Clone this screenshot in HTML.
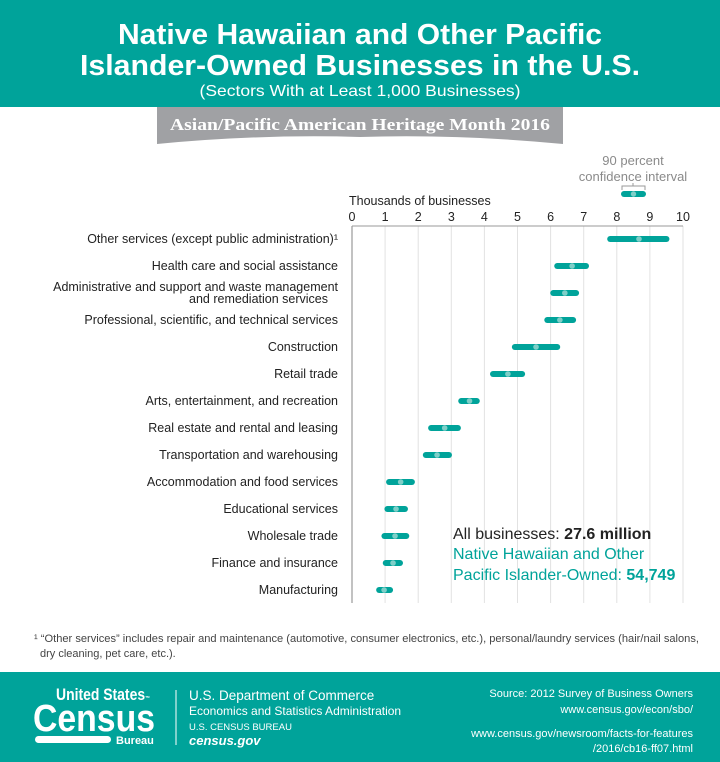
<!DOCTYPE html>
<html><head><meta charset="utf-8"><style>
body{margin:0;background:#fff}
svg{display:block;font-family:"Liberation Sans",sans-serif}
</style></head><body>
<svg id="chart" width="720" height="762" viewBox="0 0 720 762">
<rect x="0" y="0" width="720" height="107" fill="#00a39a"/>
<text x="360" y="44" text-anchor="middle" font-size="29" font-weight="bold" fill="#fff" textLength="484" lengthAdjust="spacingAndGlyphs">Native Hawaiian and Other Pacific</text>
<text x="360" y="75" text-anchor="middle" font-size="29" font-weight="bold" fill="#fff" textLength="560" lengthAdjust="spacingAndGlyphs">Islander-Owned Businesses in the U.S.</text>
<text x="360" y="96" text-anchor="middle" font-size="16" fill="#fff" textLength="321" lengthAdjust="spacingAndGlyphs">(Sectors With at Least 1,000 Businesses)</text>
<path d="M157 107 H563 V144 Q460 134 360 137 Q260 134 157 144 Z" fill="#a0a1a4"/>
<text x="360" y="130" text-anchor="middle" font-family="Liberation Serif,serif" font-size="17" font-weight="bold" fill="#fff" textLength="380" lengthAdjust="spacingAndGlyphs">Asian/Pacific American Heritage Month 2016</text>
<g id="legend">
<text x="633" y="165" text-anchor="middle" font-size="13" fill="#8a8a8a">90 percent</text>
<text x="633" y="181" text-anchor="middle" font-size="13" fill="#8a8a8a">confidence interval</text>
<path d="M622 190 V186 H645 V190 M633 186 V183" stroke="#999" fill="none"/>
<line x1="624" y1="194" x2="643" y2="194" stroke="#00a39a" stroke-width="6" stroke-linecap="round"/>
<circle cx="633.5" cy="194" r="2.7" fill="#7fcfc8"/>
</g>
<text x="349" y="205" font-size="12.5" fill="#222">Thousands of businesses</text>
<g id="axes"></g>
<g id="marks"></g>
<text x="453" y="539" font-size="16" fill="#222">All businesses: <tspan font-weight="bold">27.6 million</tspan></text>
<text x="453" y="559" font-size="16" fill="#00a39a">Native Hawaiian and Other</text>
<text x="453" y="580" font-size="16" fill="#00a39a">Pacific Islander-Owned: <tspan font-weight="bold">54,749</tspan></text>
<text x="34" y="642" font-size="11" fill="#444" textLength="665" lengthAdjust="spacingAndGlyphs">¹ “Other services” includes repair and maintenance (automotive, consumer electronics, etc.), personal/laundry services (hair/nail salons,</text>
<text x="40" y="657" font-size="11" fill="#444">dry cleaning, pet care, etc.).</text>
<rect x="0" y="672" width="720" height="90" fill="#00a39a"/>
<g>
<text x="56" y="700" font-size="17" font-weight="bold" fill="#fff" textLength="94" lengthAdjust="spacingAndGlyphs">United States<tspan font-size="6">™</tspan></text>
<text x="33" y="731" font-size="38" font-weight="bold" fill="#fff" textLength="122" lengthAdjust="spacingAndGlyphs">Census</text>
<rect x="35" y="736" width="76" height="7" rx="3.5" fill="#fff"/>
<text x="116" y="744" font-size="11" font-weight="bold" fill="#fff">Bureau</text>
</g>
<line x1="176" y1="690" x2="176" y2="745" stroke="#fff" stroke-width="1"/>
<text x="189" y="700" font-size="13.5" fill="#fff">U.S. Department of Commerce</text>
<text x="189" y="715" font-size="12" fill="#fff">Economics and Statistics Administration</text>
<text x="189" y="730" font-size="9.5" fill="#fff">U.S. CENSUS BUREAU</text>
<text x="189" y="745" font-size="13" font-weight="bold" font-style="italic" fill="#fff">census.gov</text>
<text x="693" y="697" text-anchor="end" font-size="11" fill="#fff">Source: 2012 Survey of Business Owners</text>
<text x="693" y="713" text-anchor="end" font-size="11" fill="#fff">www.census.gov/econ/sbo/</text>
<text x="693" y="737" text-anchor="end" font-size="11" fill="#fff">www.census.gov/newsroom/facts-for-features</text>
<text x="693" y="752" text-anchor="end" font-size="11" fill="#fff">/2016/cb16-ff07.html</text>
</svg>
<script>
const categories = ["Other services (except public administration)¹","Health care and social assistance","Administrative and support and waste management|and remediation services","Professional, scientific, and technical services","Construction","Retail trade","Arts, entertainment, and recreation","Real estate and rental and leasing","Transportation and warehousing","Accommodation and food services","Educational services","Wholesale trade","Finance and insurance","Manufacturing"];
const estimates = [8.67,6.65,6.43,6.28,5.56,4.71,3.55,2.8,2.57,1.47,1.33,1.3,1.24,0.97];
const lowerBounds = [7.8,6.2,6.08,5.9,4.92,4.26,3.3,2.39,2.23,1.12,1.07,0.98,1.02,0.82];
const upperBounds = [9.5,7.07,6.77,6.68,6.2,5.14,3.77,3.2,2.93,1.81,1.6,1.64,1.45,1.15];
const tickLabels = [0,1,2,3,4,5,6,7,8,9,10];

const NS="http://www.w3.org/2000/svg";
const plotX0=352, plotX1=683, plotTop=226, plotBottom=603, rowY0=239, rowStep=27;
const xs=v=>plotX0+(v-0)/(10-0)*(plotX1-plotX0);
const ys=i=>rowY0+i*rowStep;
function mk(tag,attrs,parent){const e=document.createElementNS(NS,tag);for(const k in attrs)e.setAttribute(k,attrs[k]);parent.appendChild(e);return e;}
const axesG=document.getElementById('axes'), marksG=document.getElementById('marks');
tickLabels.forEach(t=>{
  const g=mk('line',{x1:xs(t),x2:xs(t),y1:plotTop,y2:plotBottom,stroke:t===0?'#999':'#e2e2e2','stroke-width':t===0?1.2:1},axesG);
  
  
  const lb=mk('text',{x:xs(t),y:221,'text-anchor':'middle','font-size':12.5,fill:'#222'},axesG);
  lb.textContent=t;
  
  
});
const topLine=mk('line',{x1:plotX0,x2:plotX1,y1:plotTop,y2:plotTop,stroke:'#999','stroke-width':1},axesG);


categories.forEach((c,i)=>{
  const parts=c.split('|');
  const y=ys(i);
  parts.forEach((p,j)=>{
    const tx=mk('text',{x:j===0?338:328,y:parts.length>1?y-2+j*12:y+4,'text-anchor':'end','font-size':12.5,fill:'#222'},axesG);
    tx.textContent=p;
    
    
  });
  const bar=mk('line',{x1:xs(lowerBounds[i]),x2:xs(upperBounds[i]),y1:y,y2:y,stroke:'#00a39a','stroke-width':6,'stroke-linecap':'round'},marksG);
  
  
  const dot=mk('circle',{cx:xs(estimates[i]),cy:y,r:2.8,fill:'#7fcfc8'},marksG);
  
  
});
</script>
</body></html>
